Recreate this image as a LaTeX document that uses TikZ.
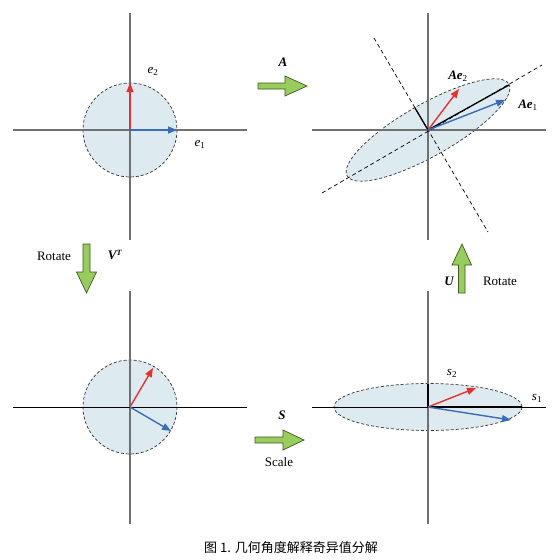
\documentclass[tikz,border=0pt]{standalone}
\usepackage{fontspec}
\setmainfont{Liberation Serif}
\newfontfamily\cjk{Noto Sans CJK SC}
\usetikzlibrary{arrows.meta}
\definecolor{fillb}{HTML}{DDEAF0}
\definecolor{vred}{HTML}{E8302C}
\definecolor{vblue}{HTML}{3A6CB8}
\definecolor{gfill}{HTML}{98CC5C}
\definecolor{gdraw}{HTML}{3C5A22}
\definecolor{axg}{HTML}{707070}
\newcommand{\sbs}[1]{\textsubscript{\upshape\mdseries #1}}
\tikzset{
  axis/.style={axg, line width=1.3pt},
  axisk/.style={black, line width=1pt},
  blob/.style={fill=fillb, draw=black!80, dash pattern=on 3pt off 2pt, line width=0.7pt},
  vecr/.style={vred, line width=1.4pt, -{Triangle[length=9pt,width=7pt]}},
  vecb/.style={vblue, line width=1.4pt, -{Triangle[length=9pt,width=7pt]}},
  gar/.style={fill=gfill, draw=gdraw, line width=0.7pt, line join=miter},
  lbl/.style={font=\fontsize{13}{15}\selectfont\itshape, inner sep=0pt},
  lblb/.style={font=\fontsize{13}{15}\selectfont\bfseries\itshape, inner sep=0pt},
  txt/.style={font=\fontsize{13}{15}\selectfont, inner sep=0pt},
  dl/.style={black, dash pattern=on 4pt off 3pt, line width=0.7pt},
  semi/.style={black, line width=1.3pt}
}
\begin{document}
\begin{tikzpicture}[x=1pt,y=-1pt]
\useasboundingbox (0,0) rectangle (559,560);
% ---------- top-left ----------
\coordinate (O1) at (130,130);
\draw[blob] (O1) circle[radius=47];
\draw[axis] (130,13) -- (130,240);
\draw[axis] (13,130) -- (247,130);
\coordinate (e2t) at (130,83);
\coordinate (e1t) at (177,130);
\draw[vecr] (O1) -- (e2t);
\draw[vecb] (O1) -- (e1t);
\node[lbl] (le2) at (153,71) {e\sbs{2}};
\node[lbl] (le1) at (200,144) {e\sbs{1}};
% ---------- top-right ----------
\coordinate (O2) at (428,130);
\draw[blob] (O2) ellipse[x radius=93, y radius=26, rotate=29.6];
\draw[axis] (428,13) -- (428,240);
\draw[axis] (312,130) -- (546,130);
\coordinate (ma1) at (322,193);
\coordinate (ma2) at (542,65);
\coordinate (mi1) at (374,38);
\coordinate (mi2) at (488,232);
\draw[dl] (ma1) -- (ma2);
\draw[dl] (mi1) -- (mi2);
\coordinate (emaj) at (509,85);
\coordinate (emin) at (415,108);
\draw[semi] (O2) -- (emaj);
\draw[semi] (O2) -- (emin);
\coordinate (ae2t) at (459,89);
\coordinate (ae1t) at (505,100);
\draw[vecr] (O2) -- (ae2t);
\draw[vecb] (O2) -- (ae1t);
\node[lblb] (lae2) at (458,76) {Ae\sbs{2}};
\node[lblb] (lae1) at (528,105) {Ae\sbs{1}};
% ---------- bottom-left ----------
\coordinate (O3) at (130,407);
\draw[blob] (O3) circle[radius=47];
\draw[axis] (130,291) -- (130,524);
\draw[axisk] (13,407) -- (247,407);
\coordinate (v2t) at (153,368);
\coordinate (v1t) at (171,431);
\draw[vecr] (O3) -- (v2t);
\draw[vecb] (O3) -- (v1t);
% ---------- bottom-right ----------
\coordinate (O4) at (428,407);
\draw[blob] (O4) ellipse[x radius=94, y radius=23.5];
\draw[axis] (428,291) -- (428,524);
\draw[axisk] (312,407) -- (546,407);
\coordinate (smin) at (428,383.5);
\coordinate (smaj) at (522,407);
\draw[semi] (O4) -- (smin);
\draw[semi] (O4) -- (smaj);
\coordinate (s2t) at (476,388);
\coordinate (s1t) at (511,420);
\draw[vecr] (O4) -- (s2t);
\draw[vecb] (O4) -- (s1t);
\node[lbl] (ls2) at (452,373) {s\sbs{2}};
\node[lbl] (ls1) at (537,398) {s\sbs{1}};
% ---------- green block arrows ----------
\draw[gar] (258,83) -- (285,83) -- (285,76) -- (307,86) -- (285,96) -- (285,89) -- (258,89) -- cycle;
\node[lblb] (lA) at (283,62) {A};
\draw[gar] (83,244) -- (90,244) -- (90,272) -- (96.5,272) -- (86.5,293) -- (76.5,272) -- (83,272) -- cycle;
\node[txt] (lrot1) at (54,256) {Rotate};
\node[lblb] (lVT) at (115,255) {V\textsuperscript{\fontsize{8}{9}\selectfont T}};
\draw[gar] (255,437) -- (283,437) -- (283,430) -- (304,440) -- (283,450) -- (283,443) -- (255,443) -- cycle;
\node[lblb] (lS) at (282,415) {S};
\node[txt] (lscale) at (279,462) {Scale};
\draw[gar] (458.5,293) -- (465,293) -- (465,265) -- (471.5,265) -- (462,244) -- (452,265) -- (458.5,265) -- cycle;
\node[lblb] (lU) at (449,281) {U};
\node[txt] (lrot2) at (500,281) {Rotate};
% ---------- caption ----------
\node[font=\cjk\fontsize{13}{15}\selectfont, inner sep=0pt] (cap) at (291,548) {图 1. 几何角度解释奇异值分解};
\end{tikzpicture}
\end{document}
